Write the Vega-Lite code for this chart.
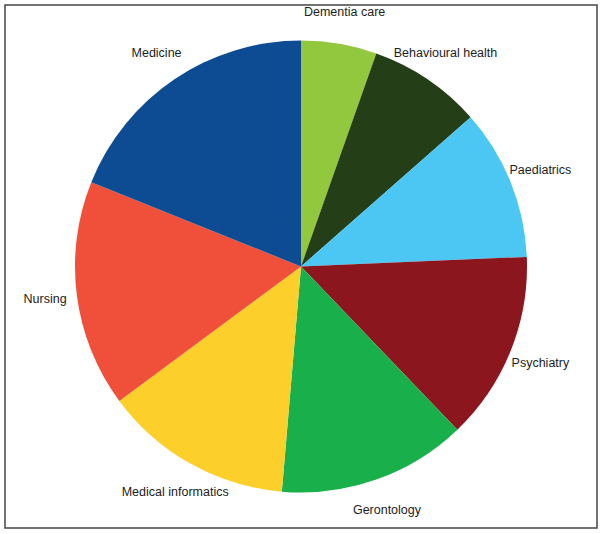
{
  "$schema": "https://vega.github.io/schema/vega-lite/v6.json",
  "width": 602,
  "height": 534,
  "autosize": {"type": "fit", "contains": "padding"},
  "padding": {"left": 5, "top": 5, "right": 5, "bottom": 6},
  "background": "white",
  "view": {"stroke": "#444444", "strokeWidth": 1.5},
  "data": {
    "values": [
      {"field": "Dementia care", "count": 2, "ord": 1},
      {"field": "Behavioural health", "count": 3, "ord": 2},
      {"field": "Paediatrics", "count": 4, "ord": 3},
      {"field": "Psychiatry", "count": 5, "ord": 4},
      {"field": "Gerontology", "count": 5, "ord": 5},
      {"field": "Medical informatics", "count": 5, "ord": 6},
      {"field": "Nursing", "count": 6, "ord": 7},
      {"field": "Medicine", "count": 7, "ord": 8}
    ]
  },
  "encoding": {
    "theta": {"field": "count", "type": "quantitative", "stack": true},
    "order": {"field": "ord", "type": "quantitative"}
  },
  "layer": [
    {
      "mark": {"type": "arc", "radius": 226},
      "encoding": {
        "color": {
          "field": "field",
          "type": "nominal",
          "legend": null,
          "scale": {
            "domain": ["Dementia care", "Behavioural health", "Paediatrics", "Psychiatry", "Gerontology", "Medical informatics", "Nursing", "Medicine"],
            "range": ["#92c83e", "#243f17", "#4cc7f4", "#8c161e", "#19b04b", "#fdcf2a", "#f0503a", "#0d4c92"]
          }
        }
      }
    },
    {
      "mark": {"type": "text", "radius": 258, "font": "Liberation Sans", "fontSize": 12.5, "fill": "#1c1c24"},
      "encoding": {
        "text": {"field": "field", "type": "nominal"}
      }
    }
  ]
}
